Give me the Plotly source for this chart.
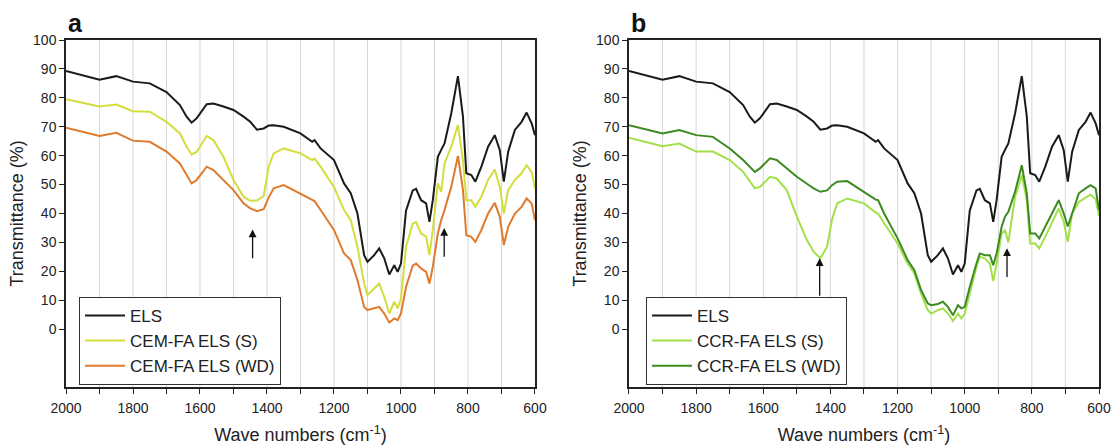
import plotly.graph_objects as go

WN = [2000,1900,1850,1800,1750,1700,1660,1640,1625,1610,1580,1560,1530,1500,1470,1450,1430,1410,1395,1380,1350,1300,1265,1258,1240,1200,1170,1150,1130,1110,1100,1080,1065,1050,1035,1020,1010,1000,985,965,955,940,925,915,905,890,880,870,850,830,815,805,790,778,760,740,720,705,693,680,660,640,625,610,600]

ELS = [89.3,86.3,87.5,85.6,85.0,82.0,77.5,73.5,71.4,72.9,77.8,78.0,77.0,75.8,73.5,71.7,69.0,69.4,70.4,70.5,70.0,67.7,64.8,65.4,62.5,58.5,50.4,47.0,40.0,25.6,23.3,25.6,27.9,24.5,18.9,22.1,19.8,22.7,41.0,48.0,48.5,44.6,43.5,37.1,44.6,59.6,62.0,64.2,74.6,87.5,73.5,53.9,53.3,51.0,56.2,63.1,67.1,61.9,51.0,61.4,68.9,71.7,74.9,71.2,67.1]

CEM_S = [79.5,77.0,77.7,75.4,75.2,71.7,67.7,63.1,60.4,61.3,66.8,65.4,59.6,51.6,45.8,44.4,44.5,46.0,56.2,60.8,62.5,60.8,58.5,59.0,56.2,49.2,41.2,37.7,28.5,15.8,11.8,14.1,15.8,11.2,5.4,9.5,7.2,10.6,28.5,36.5,37.0,33.1,32.0,25.6,34.3,50.4,47.5,57.3,63.1,70.6,58.5,44.6,44.6,42.3,45.8,51.6,55.2,49.2,40.0,48.1,51.6,53.9,56.7,54.4,48.7]

CEM_WD = [69.7,66.8,67.9,65.2,64.8,61.4,57.3,53.3,50.4,51.6,56.2,55.0,51.5,48.1,43.5,41.8,40.8,41.5,45.5,48.7,49.8,46.9,44.6,44.3,41.2,34.3,26.2,23.9,17.0,7.7,6.6,7.2,7.7,5.4,2.3,3.7,3.1,5.4,14.6,22.0,22.7,21.0,19.8,15.8,21.6,33.1,37.7,41.2,49.2,59.9,48.1,32.5,31.9,30.2,34.3,40.0,43.7,38.9,29.1,35.4,40.0,42.3,45.2,43.5,37.7]

CCR_S = [66.2,63.3,64.2,61.4,61.4,58.5,54.4,51.0,48.7,49.2,52.7,52.1,48.1,38.9,30.8,26.8,24.5,28.5,38.0,43.5,45.2,43.5,40.3,40.0,36.6,29.6,22.7,19.3,12.3,6.6,5.4,6.6,7.2,5.4,2.8,5.4,3.7,5.4,12.3,21.6,25.0,24.5,22.7,16.6,22.7,33.1,34.3,30.0,45.8,53.3,44.6,29.6,29.6,27.9,31.9,36.6,41.8,37.1,30.2,40.0,44.0,45.5,46.5,45.0,39.0]

CCR_WD = [70.5,67.7,68.9,67.1,66.5,62.5,58.5,56.2,54.4,55.6,59.1,58.5,55.5,52.7,50.3,48.7,47.5,48.0,49.8,51.0,51.2,47.5,44.8,44.6,40.0,31.4,23.9,20.4,13.5,8.9,8.3,8.7,9.5,7.7,4.8,8.3,7.2,7.7,14.6,22.7,26.2,25.6,25.6,22.1,26.2,35.4,38.9,40.6,47.5,56.7,46.9,33.1,33.1,31.4,35.4,40.0,44.6,40.0,35.5,40.0,47.0,48.7,49.8,48.7,41.2]

NAMES_A = ["ELS", "CEM-FA ELS (S)", "CEM-FA ELS (WD)"]
NAMES_B = ["ELS", "CCR-FA ELS (S)", "CCR-FA ELS (WD)"]
COLORS_A = ["#1a1a1a", "#d3dd3c", "#e07a2c"]
COLORS_B = ["#1a1a1a", "#a2e04a", "#3d8a22"]

X_TICKS = list(range(600, 2001, 100))
X_LABELS = [str(v) if v % 200 == 0 else "" for v in X_TICKS]
Y_TICKS = list(range(0, 101, 10))

# arrows: (wavenumber, tip value, tail value)
ARROWS_A = [(1443, 34.5, 24.0), (871, 35.0, 24.5)]
ARROWS_B = [(1432, 24.5, 11.0), (874, 28.0, 17.5)]

FONT = "Arial, Liberation Sans, sans-serif"

fig = go.Figure()
for name, ys, col in zip(NAMES_A, [ELS, CEM_S, CEM_WD], COLORS_A):
    fig.add_trace(go.Scatter(x=WN, y=ys, name=name, mode="lines",
                             line=dict(color=col, width=2),
                             xaxis="x", yaxis="y", legend="legend"))
for name, ys, col in zip(NAMES_B, [ELS, CCR_S, CCR_WD], COLORS_B):
    fig.add_trace(go.Scatter(x=WN, y=ys, name=name, mode="lines",
                             line=dict(color=col, width=2),
                             xaxis="x2", yaxis="y2", legend="legend2"))

xcommon = dict(range=[2000, 600], tickvals=X_TICKS, ticktext=X_LABELS,
               showgrid=False, showline=True, linecolor="#222", linewidth=1.5,
               mirror=True, ticks="outside", ticklen=5, tickcolor="#222",
               ticklabelstandoff=2,
               tickfont=dict(size=14, color="#222", family=FONT),
               title=dict(text="Wave numbers (cm<sup>-1</sup>)",
                          font=dict(size=18, color="#222", family=FONT), standoff=14),
               zeroline=False, automargin=False)
ycommon = dict(range=[-20, 100], tickvals=Y_TICKS,
               showgrid=False, showline=True, linecolor="#222", linewidth=1.5,
               mirror=True, ticks="outside", ticklen=5, tickcolor="#222",
               tickfont=dict(size=14, color="#222", family=FONT),
               title=dict(text="Transmittance (%)",
                          font=dict(size=18, color="#222", family=FONT), standoff=5),
               zeroline=False, automargin=False)

shapes = []
for xa, ya in [("x", "y"), ("x2", "y2")]:
    for g in range(700, 2000, 100):
        shapes.append(dict(type="line", xref=xa, yref=ya, x0=g, x1=g, y0=-20, y1=100,
                           line=dict(color="#d6d6d6", width=1), layer="below"))

annotations = []
for (arrs, xa, ya) in [(ARROWS_A, "x", "y"), (ARROWS_B, "x2", "y2")]:
    for w, tip, tail in arrs:
        annotations.append(dict(x=w, y=tip, ax=w, ay=tail, xref=xa, yref=ya,
                                axref=xa, ayref=ya, showarrow=True, arrowhead=2,
                                arrowsize=1.2, arrowwidth=1.3, arrowcolor="#111", text=""))
annotations.append(dict(text="<b>a</b>", x=0.0, y=1.0, xref="paper", yref="paper",
                        xanchor="left", yanchor="bottom", showarrow=False, yshift=1,
                        font=dict(size=25, color="#111", family=FONT)))
annotations.append(dict(text="<b>b</b>", x=0.545, y=1.0, xref="paper", yref="paper",
                        xanchor="left", yanchor="bottom", showarrow=False, yshift=1,
                        font=dict(size=25, color="#111", family=FONT)))

legstyle = dict(bgcolor="white", bordercolor="#333", borderwidth=1,
                font=dict(size=17, color="#222", family=FONT),
                yanchor="bottom", xanchor="left", tracegroupgap=0, itemwidth=40)

fig.update_layout(
    width=1116, height=446,
    margin=dict(l=66, r=17, t=40, b=59, autoexpand=False),
    paper_bgcolor="white", plot_bgcolor="white",
    xaxis=dict(domain=[0, 0.454], anchor="y", **xcommon),
    yaxis=dict(domain=[0, 1], anchor="x", **ycommon),
    xaxis2=dict(domain=[0.545, 1], anchor="y2", **xcommon),
    yaxis2=dict(domain=[0, 1], anchor="x2", **ycommon),
    legend=dict(x=0.0126, y=0.006, **legstyle),
    legend2=dict(x=0.5615, y=0.006, **legstyle),
    shapes=shapes, annotations=annotations,
    showlegend=True,
)

fig.write_html("out.html", config={"displayModeBar": False},
               post_script="document.body.style.margin='0';")
